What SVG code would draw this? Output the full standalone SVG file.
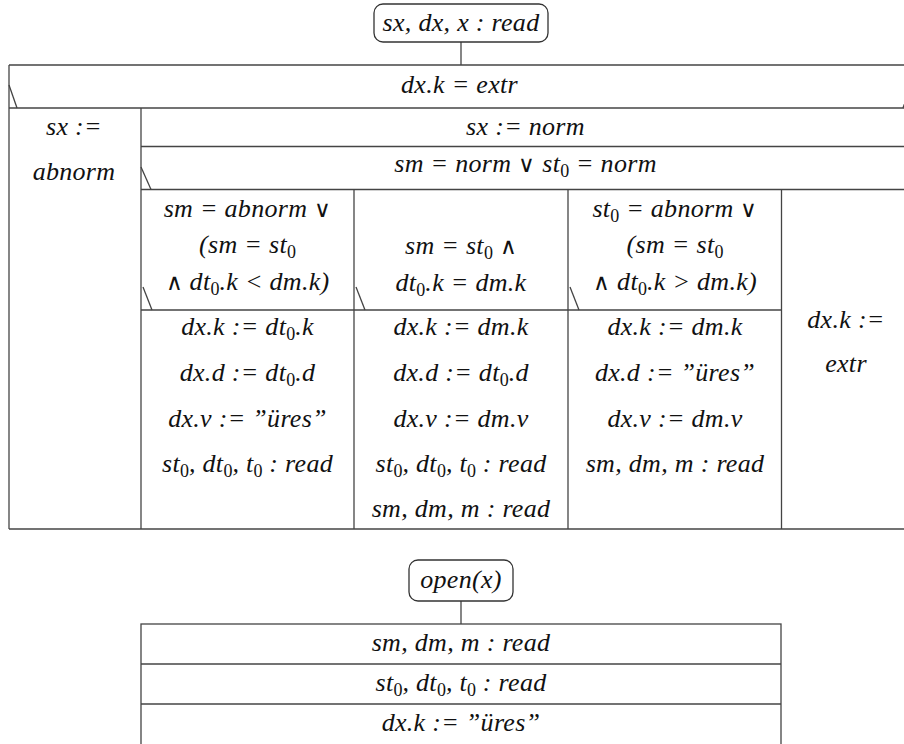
<svg xmlns="http://www.w3.org/2000/svg" width="904" height="744" viewBox="0 0 904 744">
<style>
.t{font-family:'Liberation Serif','Times New Roman',serif;font-style:italic;font-size:26px;letter-spacing:0.3px;fill:#111;text-anchor:middle}
.s{font-style:normal;font-size:18px;letter-spacing:0}
.o{font-style:normal;font-family:'DejaVu Sans',sans-serif;font-weight:200;font-size:23px}
.ln{stroke:#444;stroke-width:1.3;fill:none}
.bx{stroke:#333;stroke-width:1.3;fill:#fff}
</style>
<rect width="904" height="744" fill="#fff"/>
<g id="connectors">
<line class="ln" x1="461" y1="42" x2="461" y2="65"/>
<line class="ln" x1="461" y1="601" x2="461" y2="624"/>
</g>
<g id="start1">
<rect class="bx" x="374" y="4" width="174" height="38" rx="9"/>
<text class="t" x="461" y="31">sx, dx, x : read</text>
</g>
<g id="table1">
<line class="ln" x1="9" y1="65" x2="912" y2="65"/>
<line class="ln" x1="9" y1="108" x2="912" y2="108"/>
<line class="ln" x1="9" y1="65" x2="9" y2="529"/>
<line class="ln" x1="9" y1="529" x2="912" y2="529"/>
<line class="ln" x1="141" y1="108" x2="141" y2="529"/>
<line class="ln" x1="141" y1="146.5" x2="912" y2="146.5"/>
<line class="ln" x1="141" y1="189.5" x2="912" y2="189.5"/>
<line class="ln" x1="354" y1="189.5" x2="354" y2="529"/>
<line class="ln" x1="568" y1="189.5" x2="568" y2="529"/>
<line class="ln" x1="781.5" y1="189.5" x2="781.5" y2="529"/>
<line class="ln" x1="141" y1="310" x2="781.5" y2="310"/>
<line class="ln" x1="9" y1="85" x2="17" y2="108"/>
<line class="ln" x1="911" y1="85" x2="903" y2="108"/>
<line class="ln" x1="141" y1="167" x2="151" y2="189.5"/>
<line class="ln" x1="143" y1="287" x2="152" y2="310"/>
<line class="ln" x1="356" y1="287" x2="365" y2="310"/>
<line class="ln" x1="570" y1="287" x2="579" y2="310"/>
</g>
<g id="cond-extr"><text class="t" x="459.5" y="93">dx.k = extr</text></g>
<g id="abnorm">
<text class="t" x="74" y="135">sx :=</text>
<text class="t" x="74" y="180">abnorm</text>
</g>
<g id="norm"><text class="t" x="525.5" y="135">sx := norm</text></g>
<g id="cond-norm"><text class="t" x="525.5" y="172">sm = norm <tspan class="o">∨</tspan> st<tspan class="s" dy="5">0</tspan><tspan dy="-5"> = norm</tspan></text></g>
<g id="branch1">
<text class="t" x="247.5" y="217">sm = abnorm <tspan class="o">∨</tspan></text>
<text class="t" x="247.5" y="253">(sm = st<tspan class="s" dy="5">0</tspan></text>
<text class="t" x="247.5" y="290"><tspan class="o">∧</tspan> dt<tspan class="s" dy="5">0</tspan><tspan dy="-5">.k &lt; dm.k)</tspan></text>
<text class="t" x="247.5" y="335">dx.k := dt<tspan class="s" dy="5">0</tspan><tspan dy="-5">.k</tspan></text>
<text class="t" x="247.5" y="381">dx.d := dt<tspan class="s" dy="5">0</tspan><tspan dy="-5">.d</tspan></text>
<text class="t" x="247.5" y="427">dx.v := ”üres”</text>
<text class="t" x="247.5" y="472">st<tspan class="s" dy="5">0</tspan><tspan dy="-5">, dt</tspan><tspan class="s" dy="5">0</tspan><tspan dy="-5">, t</tspan><tspan class="s" dy="5">0</tspan><tspan dy="-5"> : read</tspan></text>
</g>
<g id="branch2">
<text class="t" x="461" y="254">sm = st<tspan class="s" dy="5">0</tspan><tspan dy="-5"> </tspan><tspan class="o">∧</tspan></text>
<text class="t" x="461" y="291">dt<tspan class="s" dy="5">0</tspan><tspan dy="-5">.k = dm.k</tspan></text>
<text class="t" x="461" y="335">dx.k := dm.k</text>
<text class="t" x="461" y="381">dx.d := dt<tspan class="s" dy="5">0</tspan><tspan dy="-5">.d</tspan></text>
<text class="t" x="461" y="427">dx.v := dm.v</text>
<text class="t" x="461" y="472">st<tspan class="s" dy="5">0</tspan><tspan dy="-5">, dt</tspan><tspan class="s" dy="5">0</tspan><tspan dy="-5">, t</tspan><tspan class="s" dy="5">0</tspan><tspan dy="-5"> : read</tspan></text>
<text class="t" x="461" y="517">sm, dm, m : read</text>
</g>
<g id="branch3">
<text class="t" x="675" y="217">st<tspan class="s" dy="5">0</tspan><tspan dy="-5"> = abnorm </tspan><tspan class="o">∨</tspan></text>
<text class="t" x="675" y="253">(sm = st<tspan class="s" dy="5">0</tspan></text>
<text class="t" x="675" y="290"><tspan class="o">∧</tspan> dt<tspan class="s" dy="5">0</tspan><tspan dy="-5">.k &gt; dm.k)</tspan></text>
<text class="t" x="675" y="335">dx.k := dm.k</text>
<text class="t" x="675" y="381">dx.d := ”üres”</text>
<text class="t" x="675" y="427">dx.v := dm.v</text>
<text class="t" x="675" y="472">sm, dm, m : read</text>
</g>
<g id="branch4">
<text class="t" x="846" y="328">dx.k :=</text>
<text class="t" x="846" y="372">extr</text>
</g>
<g id="start2">
<rect class="bx" x="409" y="560" width="104" height="41" rx="9"/>
<text class="t" x="461" y="588">open(x)</text>
</g>
<g id="table2">
<rect class="ln" x="141" y="624" width="640" height="122"/>
<line class="ln" x1="141" y1="664" x2="781" y2="664"/>
<line class="ln" x1="141" y1="704" x2="781" y2="704"/>
<text class="t" x="461" y="651">sm, dm, m : read</text>
<text class="t" x="461" y="691">st<tspan class="s" dy="5">0</tspan><tspan dy="-5">, dt</tspan><tspan class="s" dy="5">0</tspan><tspan dy="-5">, t</tspan><tspan class="s" dy="5">0</tspan><tspan dy="-5"> : read</tspan></text>
<text class="t" x="461" y="731">dx.k := ”üres”</text>
</g>
</svg>
